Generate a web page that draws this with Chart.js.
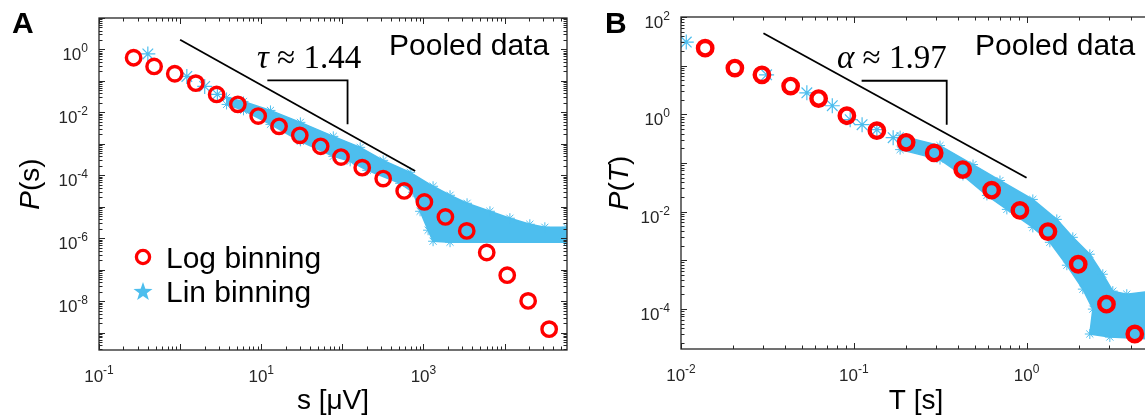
<!DOCTYPE html>
<html>
<head>
<meta charset="utf-8">
<script src="https://cdn.jsdelivr.net/npm/chart.js@4.4.1/dist/chart.umd.min.js"></script>
<style>
body{margin:0;background:#fff;overflow:hidden;width:1145px;height:419px;position:relative}
canvas{position:absolute;top:0}
#chartA{left:0}
#chartB{left:580px}
</style>
</head>
<body>
<canvas id="chartA" width="580" height="419"></canvas>
<canvas id="chartB" width="590" height="419"></canvas>
<script>
// ---- panel A : size distribution ----
var sLogA = [0.267, 0.478, 0.859, 1.56, 2.82, 5.15, 9.18, 16.6, 29.9, 54.1, 96.4, 176, 319, 579, 1028, 1866, 3420, 6030, 10790, 19540, 35480]
var pLogA = [0.546, 0.288, 0.169, 0.0851, 0.0372, 0.018, 7.64e-3, 3.6e-3, 1.86e-3, 8.34e-4, 3.81e-4, 1.75e-4, 7.85e-5, 3.18e-5, 1.42e-5, 4.74e-6, 1.71e-6, 3.52e-7, 6.68e-8, 1.02e-8, 1.29e-9]

var sLinA = [0.40, 1.21, 2.01, 2.88]
var pLinA = [0.72, 0.139, 0.067, 0.0373]
// edges of the dense lin-binning cloud
var sBandUpA = [3.74, 6.05, 13.0, 30.4, 77.4, 166, 319, 686, 1315, 2128, 3451, 6607, 11640, 20510, 31410, 58600]
var pBandUpA = [0.0299, 0.0223, 0.01156, 4.82e-3, 1.73e-3, 7.74e-4, 2.99e-4, 1.245e-4, 4.48e-5, 2.32e-5, 1.29e-5, 7.19e-6, 4.32e-6, 2.78e-6, 2.23e-6, 2.23e-6]
var sBandLoA = [3.74, 6.05, 13.0, 30.4, 77.4, 125, 203, 516, 746, 910, 1142, 1315, 2128, 58600]
var pBandLoA = [0.0179, 0.0116, 4.16e-3, 1.2e-3, 4.01e-4, 2.78e-4, 1.44e-4, 5.57e-5, 2.89e-5, 7.19e-6, 1.8e-6, 8.03e-7, 7.47e-7, 7.47e-7]

var sFitA = [1, 791]
var pFitA = [2.03, 1.37e-4]
var sBracketA = [11.9, 116, 116]
var pBracketA = [0.104, 0.104, 4.16e-3]

var xTicksA = [-1, 1, 3]
var yTicksA = [0, -2, -4, -6, -8]

// ---- panel B : duration distribution ----
var tLogB = [0.0138, 0.0205, 0.0294, 0.0431, 0.0626, 0.0912, 0.136, 0.201, 0.292, 0.427, 0.628, 0.915, 1.33, 1.99, 2.90, 4.23]
var pLogB = [22.9, 8.9, 6.47, 3.80, 2.11, 0.935, 0.461, 0.266, 0.161, 0.0732, 0.0276, 0.0106, 3.88e-3, 8.28e-4, 1.25e-4, 3.05e-5]

var tLinB = [0.01073, 0.0313, 0.0535, 0.0751, 0.0953, 0.1117, 0.136, 0.169]
var pLinB = [30.5, 6.47, 2.77, 1.50, 0.774, 0.612, 0.483, 0.331]
var tBandUpB = [0.1854, 0.3155, 0.4898, 0.7015, 1.087, 1.496, 1.852, 2.323, 2.762, 3.155, 3.802, 5.25]
var pBandUpB = [0.364, 0.2275, 0.0928, 0.0436, 0.0178, 6.92e-3, 2.96e-3, 1.33e-3, 5.16e-4, 2.32e-4, 2.01e-4, 2.32e-4]
var tBandLoB = [0.1854, 0.3155, 0.4284, 0.5894, 0.769, 1.087, 1.364, 1.711, 2.117, 2.419, 2.323, 3.034, 5.25]
var pBandLoB = [0.188, 0.1175, 0.0552, 0.0215, 0.0111, 4.74e-3, 2.34e-3, 7.91e-4, 2.55e-4, 9.91e-5, 3.05e-5, 2.64e-5, 2.4e-5]

var tFitB = [0.030, 1.0]
var pFitB = [46.4, 0.0495]
var tBracketB = [0.111, 0.345, 0.345]
var pBracketB = [4.89, 4.89, 0.612]

var xTicksB = [-2, -1, 0]
var yTicksB = [2, 0, -2, -4]

const RED = '#ff0000'
const BLUE = '#4dbeee'
const SANS = '"Liberation Sans", Arial, Helvetica, sans-serif'
const SERIF = '"Liberation Serif", "Times New Roman", serif'

const pts = (xs, ys) => xs.map((x, i) => ({x: x, y: ys[i]}))
// closed outline: upper edge then lower edge backwards
const band = (xu, yu, xl, yl) => pts(xu, yu).concat(pts(xl, yl).reverse())

function tenPow(ctx, exp, x, y, align) {
  ctx.font = '17px ' + SANS
  const wb = ctx.measureText('10').width
  ctx.font = '12px ' + SANS
  const we = ctx.measureText(String(exp)).width
  const w = wb + we
  const x0 = align === 'right' ? x - w : x - w / 2
  ctx.textAlign = 'left'
  ctx.fillStyle = '#262626'
  ctx.font = '17px ' + SANS
  ctx.fillText('10', x0, y)
  ctx.font = '12px ' + SANS
  ctx.fillText(String(exp), x0 + wb, y - 8)
}

// text made of pieces, some italic
function pieces(ctx, parts, x, y, size, family, align) {
  let w = 0
  parts.forEach(p => {
    ctx.font = (p[1] ? 'italic ' : '') + size + 'px ' + family
    w += ctx.measureText(p[0]).width
  })
  let cx = align === 'center' ? x - w / 2 : x
  ctx.textAlign = 'left'
  parts.forEach(p => {
    ctx.font = (p[1] ? 'italic ' : '') + size + 'px ' + family
    ctx.fillText(p[0], cx, y)
    cx += ctx.measureText(p[0]).width
  })
}

function decor(cfg) {
  return {
    id: 'decor' + cfg.name,
    afterDraw(chart) {
      const {ctx, chartArea: a, scales} = chart
      const xs = scales.x, ys = scales.y
      ctx.save()
      ctx.textBaseline = 'alphabetic'
      ctx.strokeStyle = '#262626'
      ctx.lineWidth = 1
      ctx.beginPath()
      // inward ticks on all four sides
      for (let e = Math.floor(Math.log10(xs.min)); e <= Math.ceil(Math.log10(xs.max)); e++) {
        for (let m = 1; m < 10; m++) {
          const v = m * Math.pow(10, e)
          if (v < xs.min * 0.999 || v > xs.max * 1.001) continue
          const px = Math.round(xs.getPixelForValue(v)) + 0.5
          const len = m === 1 ? 6 : 3.5
          ctx.moveTo(px, a.bottom); ctx.lineTo(px, a.bottom - len)
          ctx.moveTo(px, a.top); ctx.lineTo(px, a.top + len)
        }
      }
      for (let e = Math.floor(Math.log10(ys.min)); e <= Math.ceil(Math.log10(ys.max)); e++) {
        for (let m = 1; m < 10; m++) {
          const v = m * Math.pow(10, e)
          if (v < ys.min * 0.999 || v > ys.max * 1.001) continue
          const py = Math.round(ys.getPixelForValue(v)) + 0.5
          const len = m === 1 ? 6 : 3.5
          ctx.moveTo(a.left, py); ctx.lineTo(a.left + len, py)
          ctx.moveTo(a.right, py); ctx.lineTo(a.right - len, py)
        }
      }
      ctx.stroke()
      ctx.lineWidth = 1.3
      ctx.strokeRect(a.left, a.top, a.right - a.left, a.bottom - a.top)

      cfg.xTicks.forEach(e => tenPow(ctx, e, xs.getPixelForValue(Math.pow(10, e)), a.bottom + 32, 'center'))
      cfg.yTicks.forEach(e => tenPow(ctx, e, a.left - 11, ys.getPixelForValue(Math.pow(10, e)) + 11, 'right'))

      ctx.fillStyle = '#000'
      // axis titles
      pieces(ctx, cfg.xTitle, (a.left + a.right) / 2, 409, 28, SANS, 'center')
      ctx.save()
      ctx.translate(cfg.yTitleX, (a.top + a.bottom) / 2)
      ctx.rotate(-Math.PI / 2)
      pieces(ctx, cfg.yTitle, 0, 0, 28, SANS, 'center')
      ctx.restore()

      // panel letter
      ctx.font = 'bold 30px ' + SANS
      ctx.textAlign = 'left'
      ctx.fillText(cfg.letter, cfg.letterX, 33)

      ctx.font = '30px ' + SANS
      ctx.fillText('Pooled data', cfg.pooledX, 55)
      pieces(ctx, cfg.slope, cfg.slopeX, 68, 33, SERIF, 'left')

      if (cfg.legend) {
        ctx.strokeStyle = RED
        ctx.lineWidth = 3.3
        ctx.beginPath()
        ctx.arc(143, 257, 6.6, 0, Math.PI * 2)
        ctx.stroke()
        ctx.fillStyle = BLUE
        ctx.beginPath()
        for (let k = 0; k < 10; k++) {
          const r = k % 2 === 0 ? 10 : 4
          const ang = -Math.PI / 2 + k * Math.PI / 5
          const px = 143 + r * Math.cos(ang), py = 292 + r * Math.sin(ang)
          if (k === 0) ctx.moveTo(px, py); else ctx.lineTo(px, py)
        }
        ctx.closePath()
        ctx.fill()
        ctx.fillStyle = '#000'
        ctx.font = '30px ' + SANS
        ctx.fillText('Log binning', 166, 268)
        ctx.fillText('Lin binning', 166, 302)
      }
      ctx.restore()
    }
  }
}

function makeDatasets(logX, logY, linX, linY, bandPts, fitX, fitY, brX, brY, ring) {
  return [
    {data: pts(logX, logY), order: 0, showLine: false, pointStyle: 'circle', pointRadius: 7.2,
     pointBorderWidth: ring, pointBorderColor: RED, pointBackgroundColor: 'rgba(0,0,0,0)'},
    {data: pts(fitX, fitY), order: 1, borderColor: '#000', borderWidth: 1.8, pointRadius: 0, fill: false},
    {data: pts(brX, brY), order: 1, borderColor: '#000', borderWidth: 1.8, pointRadius: 0, fill: false},
    {data: pts(linX, linY), order: 2, showLine: false, pointStyle: 'star', pointRadius: 7.5,
     pointBorderWidth: 1.2, pointBorderColor: BLUE},
    {data: bandPts, order: 3, fill: 'shape', backgroundColor: BLUE, borderColor: BLUE, borderWidth: 1.5,
     pointStyle: 'star', pointRadius: 5, pointBorderWidth: 1, pointBorderColor: BLUE, tension: 0}
  ]
}

function baseOptions(pad, xmin, xmax, ymin, ymax) {
  return {
    responsive: false,
    animation: false,
    events: [],
    layout: {padding: pad},
    scales: {
      x: {type: 'logarithmic', min: xmin, max: xmax, display: false},
      y: {type: 'logarithmic', min: ymin, max: ymax, display: false}
    },
    plugins: {legend: {display: false}, tooltip: {enabled: false}}
  }
}

new Chart('chartA', {
  type: 'line',
  data: {datasets: makeDatasets(sLogA, pLogA, sLinA, pLinA,
    band(sBandUpA, pBandUpA, sBandLoA, pBandLoA), sFitA, pFitA, sBracketA, pBracketA, 3.4)},
  options: baseOptions({left: 99, top: 18, right: 13, bottom: 69}, 0.1, 58900, 2.8e-10, 10),
  plugins: [decor({name: 'A', xTicks: xTicksA, yTicks: yTicksA,
    xTitle: [['s [μV]', false]], yTitle: [['P', true], ['(s)', false]], yTitleX: 39,
    letter: 'A', letterX: 12, pooledX: 389, slope: [['τ', true], [' ≈ 1.44', false]], slopeX: 257, legend: true})]
})

new Chart('chartB', {
  type: 'line',
  data: {datasets: makeDatasets(tLogB, pLogB, tLinB, pLinB,
    band(tBandUpB, pBandUpB, tBandLoB, pBandLoB), tFitB, pFitB, tBracketB, pBracketB, 4.4)},
  options: baseOptions({left: 101, top: 17, right: 19, bottom: 70}, 0.01, 5.25, 1.5e-5, 100),
  plugins: [decor({name: 'B', xTicks: xTicksB, yTicks: yTicksB,
    xTitle: [['T [s]', false]], yTitle: [['P', true], ['(', false], ['T', true], [')', false]], yTitleX: 48,
    letter: 'B', letterX: 25, pooledX: 395, slope: [['α', true], [' ≈ 1.97', false]], slopeX: 257, legend: false})]
})
</script>
</body>
</html>
